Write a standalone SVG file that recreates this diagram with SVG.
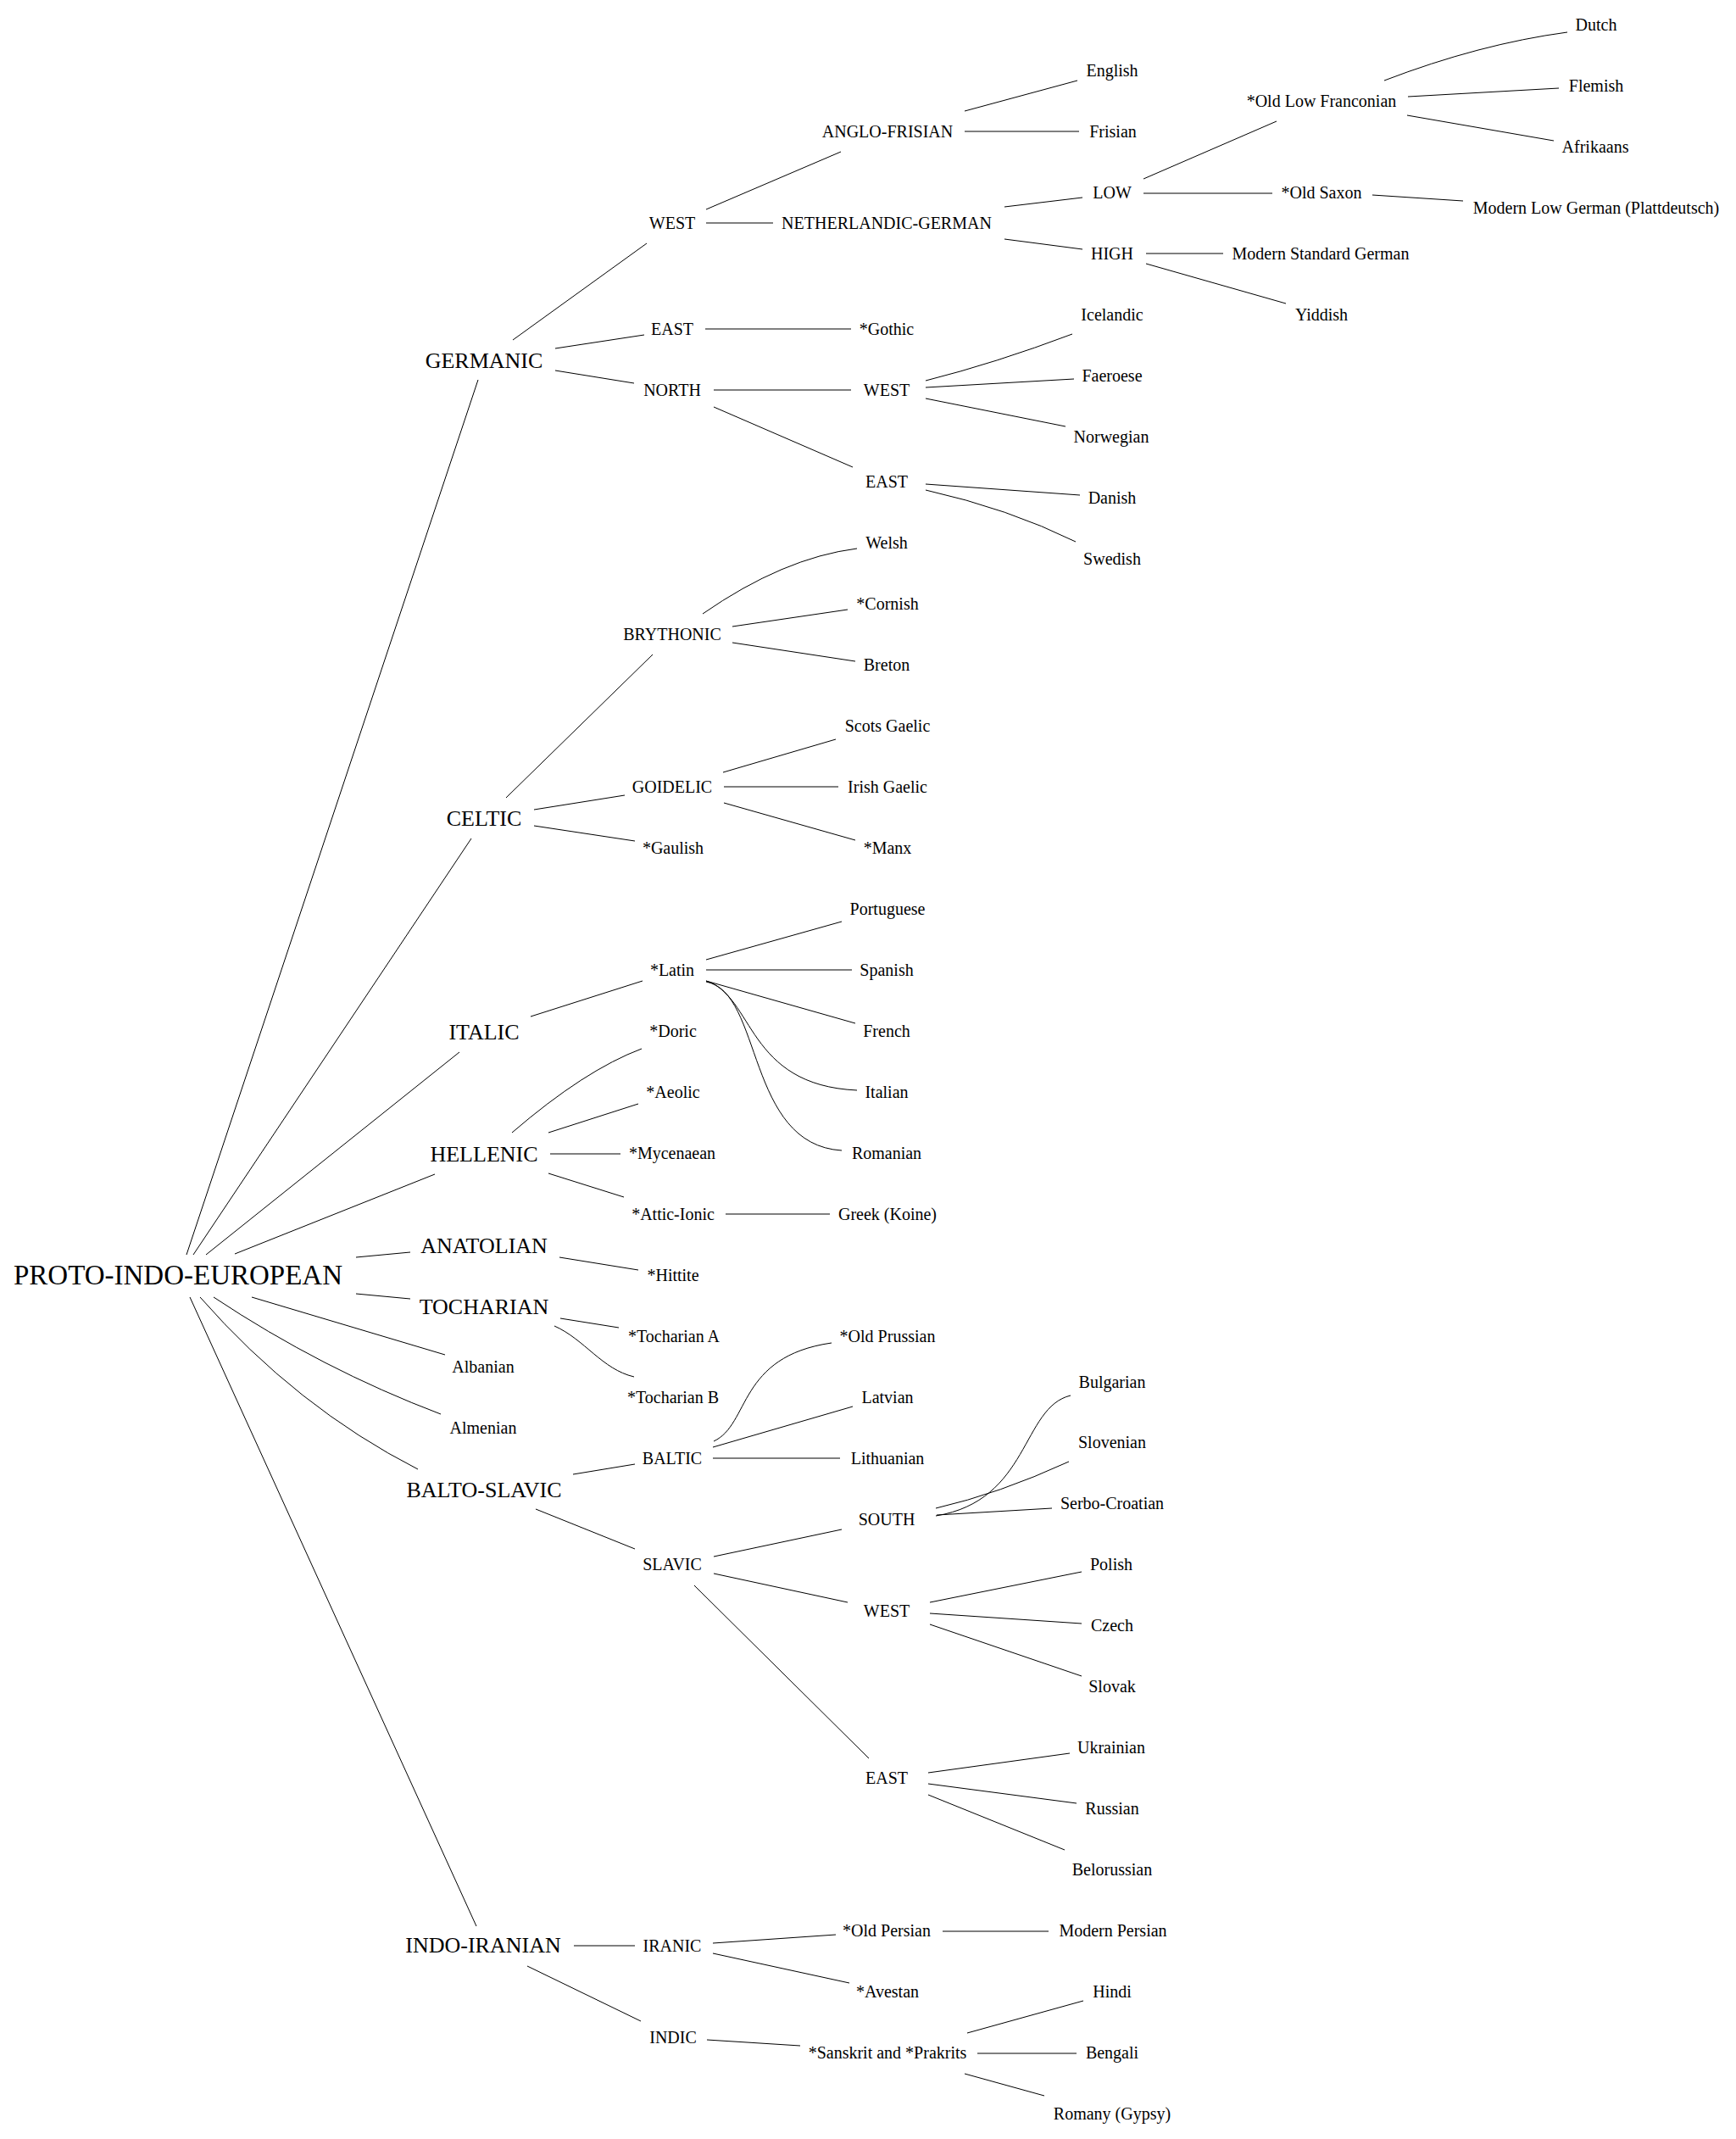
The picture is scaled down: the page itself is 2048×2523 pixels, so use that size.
<svg xmlns="http://www.w3.org/2000/svg" width="2048" height="2523" viewBox="0 0 2048 2523">
<style>
text{font-family:"Liberation Serif","Times New Roman",serif;fill:#000;text-anchor:middle}
.s{font-size:20px}
.m{font-size:26px}
.l{font-size:33px}
#connectors path,#connectors line{stroke:#000;stroke-width:1;fill:none}
</style>
<rect width="2048" height="2523" fill="#fff"/>
<g id="connectors">
<line x1="220" y1="1480" x2="564" y2="448"/>
<line x1="605" y1="401" x2="763" y2="287"/>
<line x1="655" y1="411" x2="760" y2="395"/>
<line x1="655" y1="437" x2="748" y2="452"/>
<line x1="833" y1="247" x2="992" y2="179"/>
<line x1="833" y1="263" x2="912" y2="263"/>
<line x1="1138" y1="131" x2="1271" y2="95"/>
<line x1="1138" y1="155" x2="1273" y2="155"/>
<line x1="1185" y1="244" x2="1277" y2="233"/>
<line x1="1185" y1="282" x2="1277" y2="294"/>
<line x1="1349" y1="211" x2="1506" y2="143"/>
<line x1="1349" y1="228" x2="1501" y2="228"/>
<path d="M1633,95 Q1745,52 1849,38"/>
<line x1="1661" y1="114" x2="1839" y2="104"/>
<line x1="1660" y1="136" x2="1833" y2="166"/>
<line x1="1619" y1="230" x2="1726" y2="237"/>
<line x1="1352" y1="299" x2="1443" y2="299"/>
<line x1="1352" y1="311" x2="1517" y2="358"/>
<line x1="832" y1="388" x2="1004" y2="388"/>
<line x1="842" y1="460" x2="1004" y2="460"/>
<line x1="842" y1="480" x2="1006" y2="551"/>
<path d="M1092,449 Q1175,428 1265,394"/>
<line x1="1092" y1="457" x2="1267" y2="447"/>
<line x1="1092" y1="470" x2="1257" y2="503"/>
<line x1="1092" y1="571" x2="1274" y2="584"/>
<path d="M1092,578 Q1190,600 1269,639"/>
<line x1="228" y1="1480" x2="556" y2="989"/>
<line x1="597" y1="941" x2="770" y2="772"/>
<line x1="630" y1="955" x2="737" y2="938"/>
<line x1="630" y1="974" x2="749" y2="992"/>
<path d="M829,724 Q924,658 1011,647"/>
<line x1="864" y1="739" x2="1000" y2="719"/>
<line x1="864" y1="758" x2="1009" y2="780"/>
<line x1="853" y1="911" x2="986" y2="872"/>
<line x1="854" y1="928" x2="989" y2="928"/>
<line x1="854" y1="947" x2="1009" y2="991"/>
<line x1="243" y1="1480" x2="542" y2="1241"/>
<line x1="626" y1="1199" x2="758" y2="1157"/>
<line x1="833" y1="1132" x2="993" y2="1087"/>
<line x1="833" y1="1144" x2="1005" y2="1144"/>
<line x1="833" y1="1157" x2="1009" y2="1207"/>
<path d="M833,1157 C890,1175 880,1280 1011,1286"/>
<path d="M833,1158 C900,1170 880,1350 993,1357"/>
<line x1="277" y1="1479" x2="513" y2="1385"/>
<path d="M604,1336 Q690,1262 757,1237"/>
<line x1="647" y1="1336" x2="753" y2="1302"/>
<line x1="649" y1="1361" x2="732" y2="1361"/>
<line x1="647" y1="1384" x2="736" y2="1412"/>
<line x1="856" y1="1432" x2="979" y2="1432"/>
<line x1="420" y1="1483" x2="484" y2="1477"/>
<line x1="660" y1="1483" x2="753" y2="1498"/>
<line x1="420" y1="1526" x2="484" y2="1532"/>
<line x1="661" y1="1555" x2="730" y2="1566"/>
<path d="M654,1564 C690,1580 710,1615 748,1624"/>
<line x1="297" y1="1530" x2="525" y2="1598"/>
<path d="M252,1530 Q380,1615 520,1668"/>
<path d="M236,1530 Q350,1660 493,1733"/>
<line x1="676" y1="1739" x2="749" y2="1727"/>
<line x1="632" y1="1780" x2="749" y2="1827"/>
<path d="M842,1700 C885,1680 870,1600 981,1584"/>
<line x1="841" y1="1707" x2="1006" y2="1659"/>
<line x1="841" y1="1720" x2="991" y2="1720"/>
<line x1="842" y1="1836" x2="993" y2="1804"/>
<line x1="842" y1="1856" x2="1000" y2="1890"/>
<line x1="819" y1="1870" x2="1025" y2="2074"/>
<path d="M1104,1788 C1215,1770 1205,1660 1263,1646"/>
<path d="M1104,1779 Q1178,1762 1261,1724"/>
<line x1="1105" y1="1787" x2="1241" y2="1779"/>
<line x1="1097" y1="1890" x2="1276" y2="1854"/>
<line x1="1097" y1="1903" x2="1276" y2="1915"/>
<line x1="1097" y1="1916" x2="1276" y2="1977"/>
<line x1="1095" y1="2091" x2="1262" y2="2068"/>
<line x1="1095" y1="2104" x2="1270" y2="2127"/>
<line x1="1095" y1="2117" x2="1256" y2="2182"/>
<line x1="224" y1="1530" x2="562" y2="2272"/>
<line x1="677" y1="2295" x2="749" y2="2295"/>
<line x1="622" y1="2319" x2="756" y2="2384"/>
<line x1="841" y1="2292" x2="986" y2="2282"/>
<line x1="841" y1="2304" x2="1002" y2="2339"/>
<line x1="1112" y1="2278" x2="1237" y2="2278"/>
<line x1="834" y1="2406" x2="944" y2="2413"/>
<line x1="1141" y1="2398" x2="1278" y2="2360"/>
<line x1="1153" y1="2422" x2="1270" y2="2422"/>
<line x1="1138" y1="2446" x2="1232" y2="2472"/>
</g>
<g id="pie"><text class="l" x="210" y="1515">PROTO-INDO-EUROPEAN</text></g>
<g id="germanic"><text class="m" x="571" y="434">GERMANIC</text></g>
<g id="celtic"><text class="m" x="571" y="974">CELTIC</text></g>
<g id="italic"><text class="m" x="571" y="1226">ITALIC</text></g>
<g id="hellenic"><text class="m" x="571" y="1370">HELLENIC</text></g>
<g id="anatolian"><text class="m" x="571" y="1478">ANATOLIAN</text></g>
<g id="tocharian"><text class="m" x="571" y="1550">TOCHARIAN</text></g>
<g id="albanian"><text class="s" x="570" y="1619">Albanian</text></g>
<g id="almenian"><text class="s" x="570" y="1691">Almenian</text></g>
<g id="balto-slavic"><text class="m" x="571" y="1766">BALTO-SLAVIC</text></g>
<g id="indo-iranian"><text class="m" x="570" y="2303">INDO-IRANIAN</text></g>
<g id="g-west"><text class="s" x="793" y="270">WEST</text></g>
<g id="g-east"><text class="s" x="793" y="395">EAST</text></g>
<g id="g-north"><text class="s" x="793" y="467">NORTH</text></g>
<g id="brythonic"><text class="s" x="793" y="755">BRYTHONIC</text></g>
<g id="goidelic"><text class="s" x="793" y="935">GOIDELIC</text></g>
<g id="gaulish"><text class="s" x="794" y="1007">*Gaulish</text></g>
<g id="latin"><text class="s" x="793" y="1151">*Latin</text></g>
<g id="doric"><text class="s" x="794" y="1223">*Doric</text></g>
<g id="aeolic"><text class="s" x="794" y="1295">*Aeolic</text></g>
<g id="mycenaean"><text class="s" x="793" y="1367">*Mycenaean</text></g>
<g id="attic-ionic"><text class="s" x="794" y="1439">*Attic-Ionic</text></g>
<g id="hittite"><text class="s" x="794" y="1511">*Hittite</text></g>
<g id="tocharian-a"><text class="s" x="795" y="1583">*Tocharian A</text></g>
<g id="tocharian-b"><text class="s" x="794" y="1655">*Tocharian B</text></g>
<g id="baltic"><text class="s" x="793" y="1727">BALTIC</text></g>
<g id="slavic"><text class="s" x="793" y="1852">SLAVIC</text></g>
<g id="iranic"><text class="s" x="793" y="2302">IRANIC</text></g>
<g id="indic"><text class="s" x="794" y="2410">INDIC</text></g>
<g id="anglo-frisian"><text class="s" x="1047" y="162">ANGLO-FRISIAN</text></g>
<g id="netherlandic-german"><text class="s" x="1046" y="270">NETHERLANDIC-GERMAN</text></g>
<g id="gothic"><text class="s" x="1046" y="395">*Gothic</text></g>
<g id="n-west"><text class="s" x="1046" y="467">WEST</text></g>
<g id="n-east"><text class="s" x="1046" y="575">EAST</text></g>
<g id="welsh"><text class="s" x="1046" y="647">Welsh</text></g>
<g id="cornish"><text class="s" x="1047" y="719">*Cornish</text></g>
<g id="breton"><text class="s" x="1046" y="791">Breton</text></g>
<g id="scots-gaelic"><text class="s" x="1047" y="863">Scots Gaelic</text></g>
<g id="irish-gaelic"><text class="s" x="1047" y="935">Irish Gaelic</text></g>
<g id="manx"><text class="s" x="1047" y="1007">*Manx</text></g>
<g id="portuguese"><text class="s" x="1047" y="1079">Portuguese</text></g>
<g id="spanish"><text class="s" x="1046" y="1151">Spanish</text></g>
<g id="french"><text class="s" x="1046" y="1223">French</text></g>
<g id="italian"><text class="s" x="1046" y="1295">Italian</text></g>
<g id="romanian"><text class="s" x="1046" y="1367">Romanian</text></g>
<g id="greek"><text class="s" x="1047" y="1439">Greek (Koine)</text></g>
<g id="old-prussian"><text class="s" x="1047" y="1583">*Old Prussian</text></g>
<g id="latvian"><text class="s" x="1047" y="1655">Latvian</text></g>
<g id="lithuanian"><text class="s" x="1047" y="1727">Lithuanian</text></g>
<g id="s-south"><text class="s" x="1046" y="1799">SOUTH</text></g>
<g id="s-west"><text class="s" x="1046" y="1907">WEST</text></g>
<g id="s-east"><text class="s" x="1046" y="2104">EAST</text></g>
<g id="old-persian"><text class="s" x="1046" y="2284">*Old Persian</text></g>
<g id="avestan"><text class="s" x="1047" y="2356">*Avestan</text></g>
<g id="sanskrit"><text class="s" x="1047" y="2428">*Sanskrit and *Prakrits</text></g>
<g id="english"><text class="s" x="1312" y="90">English</text></g>
<g id="frisian"><text class="s" x="1313" y="162">Frisian</text></g>
<g id="low"><text class="s" x="1312" y="234">LOW</text></g>
<g id="high"><text class="s" x="1312" y="306">HIGH</text></g>
<g id="icelandic"><text class="s" x="1312" y="378">Icelandic</text></g>
<g id="faeroese"><text class="s" x="1312" y="450">Faeroese</text></g>
<g id="norwegian"><text class="s" x="1311" y="522">Norwegian</text></g>
<g id="danish"><text class="s" x="1312" y="594">Danish</text></g>
<g id="swedish"><text class="s" x="1312" y="666">Swedish</text></g>
<g id="bulgarian"><text class="s" x="1312" y="1637">Bulgarian</text></g>
<g id="slovenian"><text class="s" x="1312" y="1708">Slovenian</text></g>
<g id="serbo-croatian"><text class="s" x="1312" y="1780">Serbo-Croatian</text></g>
<g id="polish"><text class="s" x="1311" y="1852">Polish</text></g>
<g id="czech"><text class="s" x="1312" y="1924">Czech</text></g>
<g id="slovak"><text class="s" x="1312" y="1996">Slovak</text></g>
<g id="ukrainian"><text class="s" x="1311" y="2068">Ukrainian</text></g>
<g id="russian"><text class="s" x="1312" y="2140">Russian</text></g>
<g id="belorussian"><text class="s" x="1312" y="2212">Belorussian</text></g>
<g id="modern-persian"><text class="s" x="1313" y="2284">Modern Persian</text></g>
<g id="hindi"><text class="s" x="1312" y="2356">Hindi</text></g>
<g id="bengali"><text class="s" x="1312" y="2428">Bengali</text></g>
<g id="romany"><text class="s" x="1312" y="2500">Romany (Gypsy)</text></g>
<g id="old-low-franconian"><text class="s" x="1559" y="126">*Old Low Franconian</text></g>
<g id="old-saxon"><text class="s" x="1559" y="234">*Old Saxon</text></g>
<g id="modern-standard-german"><text class="s" x="1558" y="306">Modern Standard German</text></g>
<g id="yiddish"><text class="s" x="1559" y="378">Yiddish</text></g>
<g id="dutch"><text class="s" x="1883" y="36">Dutch</text></g>
<g id="flemish"><text class="s" x="1883" y="108">Flemish</text></g>
<g id="afrikaans"><text class="s" x="1882" y="180">Afrikaans</text></g>
<g id="modern-low-german"><text class="s" x="1883" y="252">Modern Low German (Plattdeutsch)</text></g>
</svg>
